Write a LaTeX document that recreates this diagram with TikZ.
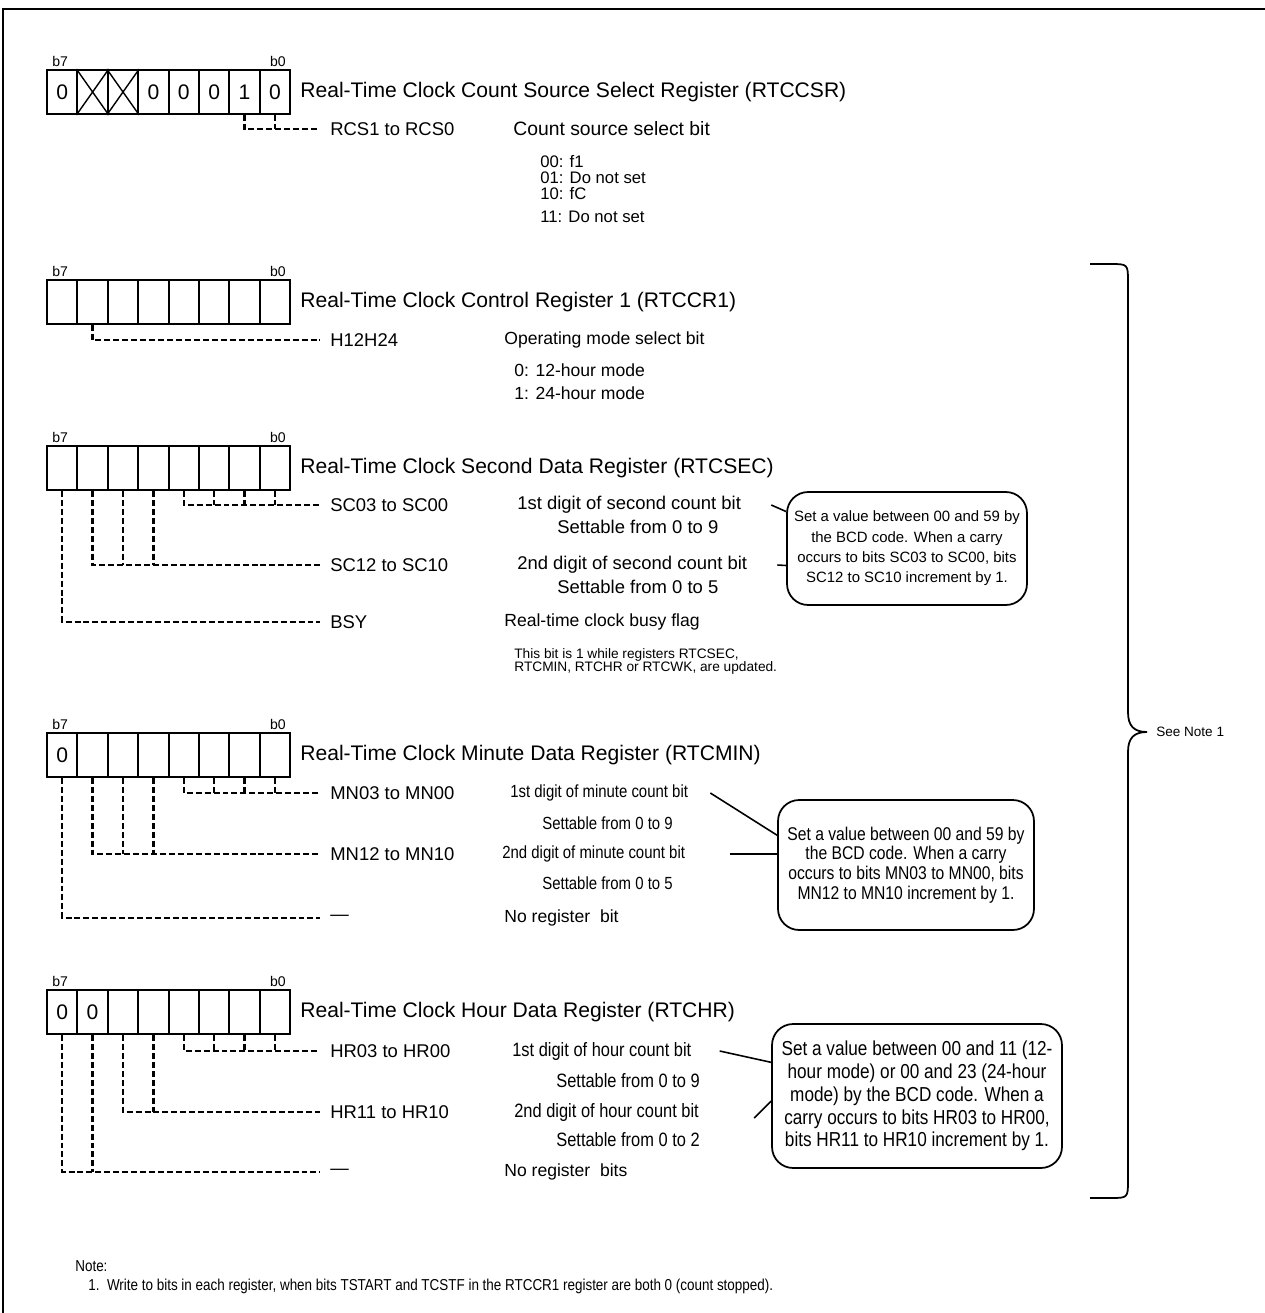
\documentclass[tikz,border=0pt]{standalone}
\usepackage{fontspec}
\setmainfont{Liberation Sans}
\newfontfamily\narrowfont[FakeStretch=0.85]{Liberation Sans}
\usetikzlibrary{positioning}
\tikzset{
  frame/.style   ={line width=1.6pt},
  bitcell/.style ={draw, line width=1.1pt, minimum width=0.608cm, minimum height=0.88cm,
                   inner sep=0pt, font=\fontsize{12}{14}\selectfont},
  bitno/.style   ={inner xsep=0pt, inner ysep=1pt, font=\fontsize{8}{9}\selectfont},
  regtitle/.style={anchor=west, inner xsep=0pt, font=\fontsize{12}{14}\selectfont},
  field/.style   ={anchor=west, inner xsep=0pt, font=\fontsize{10.5}{12}\selectfont},
  desc/.style    ={anchor=west, inner xsep=0pt, font=\fontsize{10}{12}\selectfont},
  ndesc/.style   ={anchor=west, inner xsep=0pt, font=\narrowfont\fontsize{10}{12}\selectfont},
  callout/.style ={draw, line width=1pt, rounded corners=12pt, align=center, inner sep=0pt},
  dashl/.style   ={line width=1.3pt, dash pattern=on 3.4pt off 1.7pt},
  lead/.style    ={line width=0.9pt},
}

\begin{document}
\begin{tikzpicture}[x=0.02cm, y=-0.02cm]
  \useasboundingbox (0,0) rectangle (1265,1313);
  \draw[frame] (1265,9) -- (3,9) -- (3,1313);

  % register cells, b7 on the left (n = empty, x = crossed)
  \foreach \reg/\y/\vals in {csr/70/{0,x,x,0,0,0,1,0}, ccr/280/{n,n,n,n,n,n,n,n},
      sec/446/{n,n,n,n,n,n,n,n}, min/733/{0,n,n,n,n,n,n,n}, hr/990/{0,0,n,n,n,n,n,n}}{
    \foreach \val [count=\i from 0] in \vals {
      \pgfmathtruncatemacro\bn{7-\i}
      \node[bitcell] (\reg\bn) at ({62.2+30.4*\i},{\y+22}) {\if n\val\else\if x\val\else\val\fi\fi};
      \if x\val
        \draw[line width=0.8pt] (\reg\bn.north west) -- (\reg\bn.south east)
                                (\reg\bn.south west) -- (\reg\bn.north east);
      \fi
    }
    \node[bitno, anchor=south west] (\reg hi) at ([xshift=0.12cm]\reg7.north west) {b7};
    \node[bitno, anchor=south east] (\reg lo) at ([xshift=-0.1cm]\reg0.north east) {b0};
  }

  % RTCCSR
  \node[regtitle] (csrtitle) at (300,92) {Real-Time Clock Count Source Select Register (RTCCSR)};
  \node[field] (rcs) at (330,129) {RCS1 to RCS0};
  \node[desc, font=\fontsize{11}{13}\selectfont] (rcsdsc) at (513,129) {Count source select bit};
  \node[desc, align=left, font=\fontsize{9.5}{8.9}\selectfont] (rcsval) at (540,189.5)
    {00: f1\\01: Do not set\\10: fC\\[4.6pt]11: Do not set};
  \draw[dashl] (csr1.south) |- ([xshift=-0.2cm]rcs.west);
  \draw[dashl] (csr0.south) -- (csr0.south |- rcs.west);

  % RTCCR1
  \node[regtitle] (ccrtitle) at (300,302) {Real-Time Clock Control Register 1 (RTCCR1)};
  \node[field] (h12) at (330,340) {H12H24};
  \node[desc] (h12dsc) at (504,340) {Operating mode select bit};
  \node[desc, align=left, font=\fontsize{10}{13}\selectfont] (h12val) at (514,381.5)
    {0: 12-hour mode\\1: 24-hour mode};
  \draw[dashl] (ccr6.south) |- ([xshift=-0.2cm]h12.west);

  % RTCSEC
  \node[regtitle] (sectitle) at (300,468) {Real-Time Clock Second Data Register (RTCSEC)};
  \node[field] (sclo) at (330,505) {SC03 to SC00};
  \node[field] (schi) at (330,565) {SC12 to SC10};
  \node[field] (bsy)  at (330,622) {BSY};
  \node[desc, font=\fontsize{10.5}{12}\selectfont] (sclodsc) at (517,505) {1st digit of second count bit};
  \node[desc, font=\fontsize{10.5}{12}\selectfont] (sclorng) at (557,527) {Settable from 0 to 9};
  \node[desc, font=\fontsize{10.5}{12}\selectfont] (schidsc) at (517,565) {2nd digit of second count bit};
  \node[desc, font=\fontsize{10.5}{12}\selectfont] (schirng) at (557,587) {Settable from 0 to 5};
  \node[desc] (bsydsc) at (504,622) {Real-time clock busy flag};
  \node[desc, align=left, font=\fontsize{7.8}{7.6}\selectfont] (bsynote) at (514,661.5)
    {This bit is 1 while registers RTCSEC,\\RTCMIN, RTCHR or RTCWK, are updated.};
  \draw[dashl] (sec3.south) |- ([xshift=-0.2cm]sclo.west);
  \foreach \bn in {2,1,0} \draw[dashl] (sec\bn.south) -- (sec\bn.south |- sclo.west);
  \draw[dashl] (sec6.south) |- ([xshift=-0.2cm]schi.west);
  \foreach \bn in {5,4} \draw[dashl] (sec\bn.south) -- (sec\bn.south |- schi.west);
  \draw[dashl] (sec7.south) |- ([xshift=-0.2cm]bsy.west);
  \node[callout, minimum width=4.8cm, minimum height=2.26cm, font=\fontsize{8.5}{11.6}\selectfont]
    (secnote) at (907,548.5) {Set a value between 00 and 59 by\\the BCD code. When a carry\\
    occurs to bits SC03 to SC00, bits\\SC12 to SC10 increment by 1.};
  \draw[lead] ([xshift=0.6cm]sclodsc.east) -- (secnote.163);
  \draw[lead] ([xshift=0.6cm]schidsc.east) -- (secnote.188);

  % RTCMIN
  \node[regtitle] (mintitle) at (300,755) {Real-Time Clock Minute Data Register (RTCMIN)};
  \node[field] (mnlo)   at (330,793) {MN03 to MN00};
  \node[field] (mnhi)   at (330,854) {MN12 to MN10};
  \node[field] (mnnone) at (330,918) {---};
  \node[ndesc] (mnlodsc) at (510,793) {1st digit of minute count bit};
  \node[ndesc] (mnlorng) at (542,823) {Settable from 0 to 9};
  \node[ndesc] (mnhidsc) at (502,854) {2nd digit of minute count bit};
  \node[ndesc] (mnhirng) at (542,883) {Settable from 0 to 5};
  \node[desc]  (mnnonedsc) at (504,918) {No register\ \ bit};
  \draw[dashl] (min3.south) |- ([xshift=-0.2cm]mnlo.west);
  \foreach \bn in {2,1,0} \draw[dashl] (min\bn.south) -- (min\bn.south |- mnlo.west);
  \draw[dashl] (min6.south) |- ([xshift=-0.2cm]mnhi.west);
  \foreach \bn in {5,4} \draw[dashl] (min\bn.south) -- (min\bn.south |- mnhi.west);
  \draw[dashl] (min7.south) |- ([xshift=-0.2cm]mnnone.west);
  \node[callout, minimum width=5.12cm, minimum height=2.6cm, font=\narrowfont\fontsize{10.5}{11.3}\selectfont]
    (minnote) at (906,865) {Set a value between 00 and 59 by\\the BCD code. When a carry\\
    occurs to bits MN03 to MN00, bits\\MN12 to MN10 increment by 1.};
  \draw[lead] ([xshift=0.44cm]mnlodsc.east) -- (minnote.167);
  \draw[lead] ([xshift=0.9cm]mnhidsc.east) -- (minnote.west |- mnhidsc.east);

  % RTCHR
  \node[regtitle] (hrtitle) at (300,1012) {Real-Time Clock Hour Data Register (RTCHR)};
  \node[field] (hrlo)   at (330,1051) {HR03 to HR00};
  \node[field] (hrhi)   at (330,1112) {HR11 to HR10};
  \node[field] (hrnone) at (330,1172) {---};
  \node[ndesc, font=\narrowfont\fontsize{11}{13}\selectfont] (hrlodsc) at (512,1051) {1st digit of hour count bit};
  \node[ndesc, font=\narrowfont\fontsize{11}{13}\selectfont] (hrlorng) at (556,1081) {Settable from 0 to 9};
  \node[ndesc, font=\narrowfont\fontsize{11}{13}\selectfont] (hrhidsc) at (514,1112) {2nd digit of hour count bit};
  \node[ndesc, font=\narrowfont\fontsize{11}{13}\selectfont] (hrhirng) at (556,1140) {Settable from 0 to 2};
  \node[desc] (hrnonedsc) at (504,1172) {No register\ \ bits};
  \draw[dashl] (hr3.south) |- ([xshift=-0.2cm]hrlo.west);
  \foreach \bn in {2,1,0} \draw[dashl] (hr\bn.south) -- (hr\bn.south |- hrlo.west);
  \draw[dashl] (hr5.south) |- ([xshift=-0.2cm]hrhi.west);
  \draw[dashl] (hr4.south) -- (hr4.south |- hrhi.west);
  \draw[dashl] (hr7.south) |- ([xshift=-0.2cm]hrnone.west);
  \draw[dashl] (hr6.south) -- (hr6.south |- hrnone.west);
  \node[callout, minimum width=5.8cm, minimum height=2.88cm, font=\narrowfont\fontsize{11.5}{13}\selectfont]
    (hrnote) at (917,1096) {Set a value between 00 and 11 (12-\\hour mode) or 00 and 23 (24-hour\\
    mode) by the BCD code. When a\\carry occurs to bits HR03 to HR00,\\bits HR11 to HR10 increment by 1.};
  \draw[lead] ([xshift=0.56cm]hrlodsc.east) -- (hrnote.167);
  \draw[lead] ([xshift=1.1cm, yshift=-0.12cm]hrhidsc.east) -- (hrnote.182);

  % brace over RTCCR1 .. RTCHR
  \draw[line width=1pt] (1090,264) -- (1110,264) .. controls (1128,264) .. (1128,282)
    -- (1128,712) .. controls (1128,726) and (1134,732) .. (1147,732)
    .. controls (1134,732) and (1128,738) .. (1128,752)
    -- (1128,1180) .. controls (1128,1198) .. (1110,1198) -- (1090,1198);
  \coordinate (bracetip) at (1147,732);
  \node[anchor=west, inner xsep=0pt, font=\fontsize{7.7}{9}\selectfont] (seenote)
    at ([xshift=0.18cm]bracetip) {See Note 1};

  % note
  \node[anchor=west, inner xsep=0pt, font=\narrowfont\fontsize{9}{11}\selectfont] (notehead)
    at (75,1266) {Note:};
  \node[anchor=west, inner xsep=0pt, font=\narrowfont\fontsize{9}{11}\selectfont] (note1)
    at (88,1286) {1.\ \ Write to bits in each register, when bits TSTART and TCSTF in the RTCCR1 register are both 0 (count stopped).};
\end{tikzpicture}
\end{document}
